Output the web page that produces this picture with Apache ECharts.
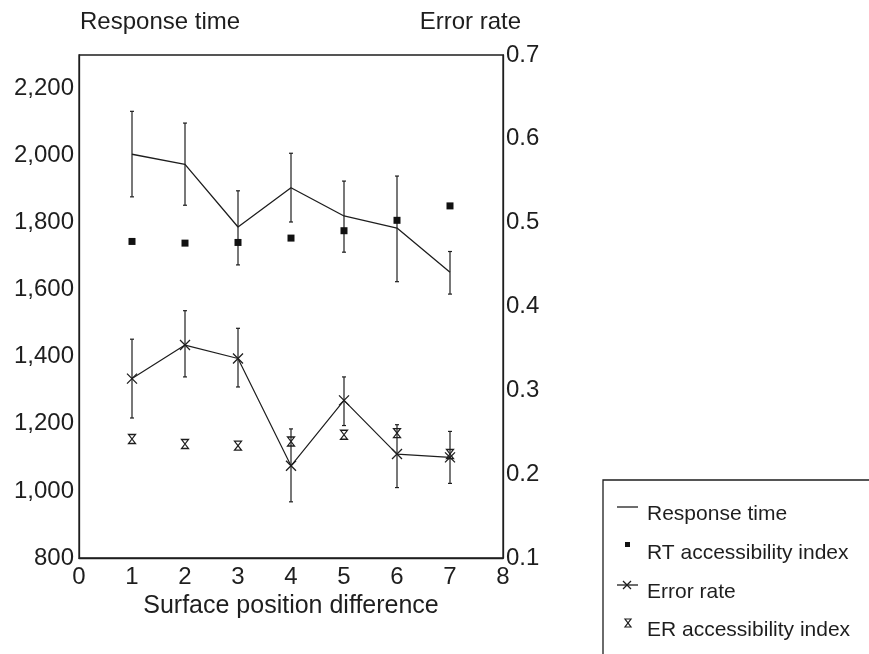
<!DOCTYPE html>
<html>
<head>
<meta charset="utf-8">
<script src="https://cdn.jsdelivr.net/npm/echarts@6/dist/echarts.min.js"></script>
<style>
  html, body { margin: 0; padding: 0; background: #fff; }
  #chart { width: 869px; height: 654px; }
</style>
</head>
<body>
<div id="chart"></div>
<script>
// Surface position difference (x axis)
const positions = [1, 2, 3, 4, 5, 6, 7];

// Response time (left axis), with error bar limits
const responseTime = [2004, 1974, 1787, 1904, 1820, 1784, 1652];
const rtLow  = [1877, 1852, 1674, 1802, 1712, 1624, 1587];
const rtHigh = [2132, 2097, 1895, 2007, 1924, 1939, 1714];

// RT accessibility index (left axis)
const rtIndex = [1744, 1739, 1741, 1754, 1776, 1807, 1850];

// Error rate (right axis), with error bar limits
const errorRate = [0.314, 0.354, 0.338, 0.210, 0.288, 0.224, 0.220];
const erLow  = [0.267, 0.316, 0.304, 0.167, 0.258, 0.184, 0.189];
const erHigh = [0.361, 0.395, 0.374, 0.254, 0.316, 0.259, 0.251];

// ER accessibility index (right axis)
const erIndex = [0.242, 0.236, 0.234, 0.239, 0.247, 0.249, 0.224];

// Axis titles and legend entries
const leftTitle = 'Response time';
const rightTitle = 'Error rate';
const xTitle = 'Surface position difference';
const legendNames = ['Response time', 'RT accessibility index', 'Error rate', 'ER accessibility index'];

const INK = '#1e1e1e';
const FONT = '"Liberation Sans", Arial, sans-serif';

const pairs = (ys) => positions.map((p, i) => [p, ys[i]]);
const bars = (lo, hi) => positions.map((p, i) => [p, lo[i], hi[i]]);

function errorBar(params, api) {
  const x = api.value(0);
  const top = api.coord([x, api.value(2)]);
  const bot = api.coord([x, api.value(1)]);
  const cap = 2;
  const st = { stroke: INK, lineWidth: 1.2 };
  return {
    type: 'group',
    children: [
      { type: 'line', shape: { x1: top[0], y1: top[1], x2: bot[0], y2: bot[1] }, style: st },
      { type: 'line', shape: { x1: top[0] - cap, y1: top[1], x2: top[0] + cap, y2: top[1] }, style: st },
      { type: 'line', shape: { x1: bot[0] - cap, y1: bot[1], x2: bot[0] + cap, y2: bot[1] }, style: st }
    ]
  };
}

const CROSS = 'path://M0,0 L10,10 M10,0 L0,10';
const HOURGLASS = 'path://M0,0 L8,0 L0,10 L8,10 Z';

const chart = echarts.init(document.getElementById('chart'), null, { renderer: 'canvas' });

const lineStyle = { stroke: INK, lineWidth: 1.3 };
const textStyle = (text, x, y, size, align) => ({
  type: 'text',
  style: { text, x, y, font: size + 'px ' + FONT, fill: INK, align: align || 'left', verticalAlign: 'middle' }
});

chart.setOption({
  animation: false,
  backgroundColor: '#fff',
  textStyle: { fontFamily: FONT, color: INK },
  grid: {
    left: 79, right: 366, top: 55, bottom: 96,
    show: true, borderColor: INK, borderWidth: 1.3, backgroundColor: 'transparent'
  },
  xAxis: {
    type: 'value', min: 0, max: 8, interval: 1,
    axisLine: { show: true, lineStyle: { color: INK, width: 1.3 } },
    axisTick: { show: false },
    splitLine: { show: false },
    axisLabel: { color: INK, fontSize: 24, margin: 7, fontFamily: FONT },
    name: xTitle, nameLocation: 'middle', nameGap: 34,
    nameTextStyle: { color: INK, fontSize: 25, fontFamily: FONT }
  },
  yAxis: [
    {
      type: 'value', min: 800, max: 2300, interval: 200, position: 'left',
      axisLine: { show: true, lineStyle: { color: INK, width: 1.3 } },
      axisTick: { show: false },
      splitLine: { show: false },
      axisLabel: {
        color: INK, fontSize: 24, margin: 5, fontFamily: FONT, showMaxLabel: false,
        formatter: (v) => (v > 2200 ? '' : v.toLocaleString('en-US'))
      }
    },
    {
      type: 'value', min: 0.1, max: 0.7, interval: 0.1, position: 'right',
      axisLine: { show: true, lineStyle: { color: INK, width: 1.3 } },
      axisTick: { show: false },
      splitLine: { show: false },
      axisLabel: { color: INK, fontSize: 24, margin: 3, fontFamily: FONT, formatter: (v) => v.toFixed(1) }
    }
  ],
  series: [
    {
      name: legendNames[0], type: 'line', yAxisIndex: 0, data: pairs(responseTime),
      showSymbol: false, lineStyle: { color: INK, width: 1.3 }, z: 3
    },
    {
      type: 'custom', yAxisIndex: 0, data: bars(rtLow, rtHigh),
      encode: { x: 0, y: [1, 2] }, renderItem: errorBar, z: 2
    },
    {
      name: legendNames[1], type: 'scatter', yAxisIndex: 0, data: pairs(rtIndex),
      symbol: 'rect', symbolSize: 7, itemStyle: { color: '#111', opacity: 1 }, z: 4
    },
    {
      name: legendNames[2], type: 'line', yAxisIndex: 1, data: pairs(errorRate),
      symbol: CROSS, symbolSize: [10, 10], showSymbol: true,
      itemStyle: { color: INK, borderColor: INK, borderWidth: 1.3 },
      lineStyle: { color: INK, width: 1.2 }, z: 3
    },
    {
      type: 'custom', yAxisIndex: 1, data: bars(erLow, erHigh),
      encode: { x: 0, y: [1, 2] }, renderItem: errorBar, z: 2
    },
    {
      name: legendNames[3], type: 'scatter', yAxisIndex: 1, data: pairs(erIndex),
      symbol: HOURGLASS, symbolSize: [7, 9],
      itemStyle: { color: 'rgba(0,0,0,0)', borderColor: INK, borderWidth: 1.2, opacity: 1 }, z: 4
    }
  ],
  graphic: [
    textStyle(leftTitle, 80, 22, 24, 'left'),
    textStyle(rightTitle, 521, 22, 24, 'right'),
    // legend box, open to the right and bottom edges
    { type: 'rect', shape: { x: 603, y: 480, width: 300, height: 200 }, style: { fill: 'none', stroke: INK, lineWidth: 1.3 } },
    { type: 'line', shape: { x1: 617, y1: 507, x2: 638, y2: 507 }, style: lineStyle },
    textStyle(legendNames[0], 647, 514, 21),
    { type: 'rect', shape: { x: 625, y: 542, width: 5, height: 5 }, style: { fill: '#111' } },
    textStyle(legendNames[1], 647, 553, 21),
    { type: 'line', shape: { x1: 617, y1: 585, x2: 638, y2: 585 }, style: lineStyle },
    { type: 'line', shape: { x1: 623, y1: 581, x2: 631, y2: 589 }, style: lineStyle },
    { type: 'line', shape: { x1: 631, y1: 581, x2: 623, y2: 589 }, style: lineStyle },
    textStyle(legendNames[2], 647, 592, 21),
    { type: 'polygon', shape: { points: [[625, 619], [631, 619], [625, 627], [631, 627]] }, style: { fill: 'none', stroke: INK, lineWidth: 1.2 } },
    textStyle(legendNames[3], 647, 630, 21)
  ]
});
</script>
</body>
</html>
